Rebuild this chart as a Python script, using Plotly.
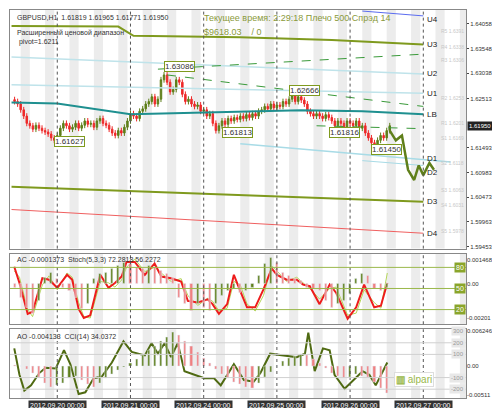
import plotly.graph_objects as go

closes = [1.6245,1.6240,1.6228,1.6215,1.6200,
 1.6195,1.6188,1.6196,1.6190,1.6185,1.6182,
 1.6178,1.6170,1.6165,1.6175,1.6190,1.6200,
 1.6195,1.6188,1.6192,1.6200,1.6190,1.6196,1.6205,1.6198,1.6200,1.6192,
 1.6205,1.6210,1.6200,1.6196,1.6188,1.6180,1.6175,1.6185,1.6180,1.6192,1.6205,1.6220,
 1.6215,1.6210,1.6225,1.6230,1.6240,1.6245,1.6255,1.6240,1.6250,1.6290,1.6300,1.6285,
 1.6265,1.6270,1.6290,1.6285,1.6260,1.6245,1.6250,1.6240,1.6235,1.6238,1.6225,1.6228,
 1.6215,1.6220,1.6200,1.6185,1.6195,1.6205,1.6198,1.6210,1.6205,1.6212,1.6208,1.6215,
 1.6210,1.6218,1.6212,1.6220,1.6215,1.6225,1.6228,1.6235,1.6230,1.6240,1.6232,1.6238,
 1.6235,1.6245,1.6240,1.6250,1.6258,1.6245,1.6255,1.6248,1.6240,1.6225,1.6220,1.6215,
 1.6220,1.6215,1.6210,1.6218,1.6212,1.6205,1.6195,1.6205,1.6200,1.6192,1.6205,1.6200,
 1.6195,1.6205,1.6190,1.6195,1.6180,1.6170,1.6160,1.6150,1.6165,1.6175,1.6170,1.6185,1.6195]
first_bar = -14
wick = 0.0006

fc_x = [109,111,113,115,117,118.5,120,122,123.5]
fc_y = [1.6185,1.6165,1.6175,1.6104,1.6083,1.6113,1.6093,1.6118,1.6104]

levels = {
 "U4": ([100,120],[1.6432,1.6422],"#5b6cf0",1),
 "U3": ([-15,20,25,60,90,120],[1.6401,1.6400,1.6381,1.6378,1.6372,1.6363],"#7f9a1e",2),
 "U2": ([-15,120],[1.6337,1.6302],"#bfe3ea",1.5),
 "U1": ([-15,120],[1.6280,1.6262],"#bfe3ea",1.5),
 "LB": ([-15,0,24,50,80,100,120],[1.6243,1.6241,1.6219,1.6223,1.6227,1.6225,1.6219],"#1f9090",2),
 "D1": ([60,129],[1.6158,1.6120],"#a8dbe6",1.5),
 "D2": ([100,120],[1.6123,1.6113],"#a8dbe6",1),
 "D3": ([-15,120],[1.6069,1.6038],"#7f9a1e",2),
 "D4": ([-15,120],[1.6022,1.5973],"#f06060",1),
}
level_label_y = {"U4":1.6415,"U3":1.6363,"U2":1.6302,"U1":1.6262,"LB":1.6219,"D1":1.6128,"D2":1.6098,"D3":1.6038,"D4":1.5973}
dashed = [([33,120],[1.6312,1.6343]),([36,120],[1.6300,1.6235]),([85,120],[1.6195,1.6189])]
price_labels = [(35,1.6318,"1.63086"),(-1,1.6163,"1.61627"),(54,1.6181,"1.61813"),(76,1.6267,"1.62666"),(89,1.6182,"1.61816"),(103,1.6146,"1.61450"),(-16,1.6196,"09")]
pivots = [("R5 1.6391",1.6391),("R4 1.6338",1.6358),("R3 1.6306",1.6330),("R2 1.6253",1.6253),("R1 1.6201",1.6201),
          ("S1 1.6169",1.6169),("S2 1.6118",1.6118),("S3 1.6063",1.6063),("S4 1.6031",1.6031),("S5 1.5978",1.5978)]
price_ticks = [1.64058,1.63548,1.63038,1.62513,1.61493,1.60983,1.60473,1.59963,1.59453]
last_price = 1.61950

stoch_x = [-14.1,-12.4,-9.7,-8.1,-4.9,-2.7,0,3.2,4.9,7,8.7,10.8,14.1,16.8,18.9,21.1,22.7,25.4,28.7,31.9,34.1,37.3,40.6,42.8,46.1,49.3,50.9,53,55.7,57.9,60,62.2,64.9,67.6,70.3,72,75.2,78.5,80.6,82.8,86,89.3,91.4,95.2,98,100.6,103.9,106.1,108.2]
stoch_main = [80.9,57.8,14,17,64.6,62.5,51,69.4,62.5,20.9,8,11.8,69.4,50.9,57.8,67,87.8,87.8,69.4,85.6,67,64.6,60,32.3,30,34.6,27.7,13.9,27.7,69.4,46.3,23.2,23.2,48.6,78.5,69.4,62.5,62.5,55.5,53.2,27.7,55.5,44,7,23.2,55.5,23.2,25.5,57.8]
stoch_sig = [75,66,20,10,55,68,48,72,66,30,10,8,60,58,52,62,80,92,74,80,72,60,64,40,26,36,32,18,22,60,55,28,18,40,82,75,60,66,58,50,35,50,52,12,15,48,30,22,72]
ac = [-2,-8,-14,-18,-10,4,7,3,-2,-4,-8,-15,-12,3,6,7,9,11,13,12,10,9,11,10,8,6,4,-8,-12,-16,-12,-14,-16,-12,-7,-4,-3,-5,-4,-2,5,12,16,13,7,5,3,2,-2,-3,-4,-10,-14,-12,-10,-6,3,6,5,-3,-4,-2]
ao = [2,0,-5,-12,-20,-30,-38,-35,-30,-22,-18,-25,-32,-38,-30,-22,-15,-8,-2,5,12,20,28,36,44,52,60,55,45,35,25,15,5,-5,-15,-22,-28,-32,-38,-40,-30,-20,-10,0,8,14,18,22,20,12,5,-3,-12,-18,-22,-20,-15,-18,-20,-28,-40,-48]
hist_x = list(range(-14,110,2))
cci_x = [-14.1,-12.4,-10.8,-8.6,-5.9,-3.8,-0.5,2.2,4.3,7,9.2,11.9,14.6,17.9,21.7,24.4,28.7,30.9,33,35.2,37.3,39.5,41.7,44.9,48.2,51.4,53.6,57.9,61.2,64.4,66.6,69.8,75.2,78.5,81.2,82.3,84.4,87.1,89.3,90.9,94.2,97.9,100.1,102.3,104.4,108.2]
cci = [152,-76,-212,-167,-61,-15,-21,136,15,-242,-227,-106,-91,30,212,121,91,197,106,197,76,197,-45,-76,-106,-106,-167,15,-121,-136,-61,106,91,76,106,288,-45,152,136,-76,-197,-106,-45,-76,-167,30]
day_x = [0,24,48,72,96,120]
day_labels = ["2012.09.20 00:00","2012.09.21 00:00","2012.09.24 00:00","2012.09.25 00:00","2012.09.26 00:00","2012.09.27 00:00"]

FONT = "Liberation Sans"
GREEN = "#5f7f1a"; RED = "#ee2a2a"
fig = go.Figure()
n = len(closes)
xs = list(range(first_bar, first_bar+n))
opens = [closes[0]+0.0004] + closes[:-1]
highs = [max(o,c)+wick for o,c in zip(opens,closes)]
lows = [min(o,c)-wick for o,c in zip(opens,closes)]
fig.add_trace(go.Candlestick(x=xs, open=opens, high=highs, low=lows, close=closes,
    increasing=dict(line=dict(color=GREEN,width=1),fillcolor=GREEN),
    decreasing=dict(line=dict(color=RED,width=1),fillcolor=RED), whiskerwidth=0, xaxis="x", yaxis="y"))
for k,(lx,ly,c,w) in levels.items():
    fig.add_trace(go.Scatter(x=lx,y=ly,mode="lines",line=dict(color=c,width=w),xaxis="x",yaxis="y"))
for lx,ly in dashed:
    fig.add_trace(go.Scatter(x=lx,y=ly,mode="lines",line=dict(color="#3a9a3a",width=1,dash="dash"),xaxis="x",yaxis="y"))
fig.add_trace(go.Scatter(x=fc_x,y=fc_y,mode="lines",line=dict(color=GREEN,width=2.5),xaxis="x",yaxis="y"))

fig.add_trace(go.Bar(x=hist_x,y=[v*1e-4 for v in ac],width=0.7,
    marker_color=[GREEN if i>0 and ac[i]>ac[i-1] else "#f08080" for i in range(len(ac))],xaxis="x2",yaxis="y5"))
fig.add_trace(go.Scatter(x=stoch_x,y=stoch_sig,mode="lines",line=dict(color="#b5d65a",width=1),xaxis="x2",yaxis="y2"))
fig.add_trace(go.Scatter(x=stoch_x,y=stoch_main,mode="lines",line=dict(color="#ee1c1c",width=2),xaxis="x2",yaxis="y2"))
fig.add_trace(go.Bar(x=hist_x,y=[v*1e-4 for v in ao],width=0.7,
    marker_color=[GREEN if i>0 and ao[i]>ao[i-1] else "#f08080" for i in range(len(ao))],xaxis="x3",yaxis="y6"))
fig.add_trace(go.Scatter(x=cci_x,y=cci,mode="lines",line=dict(color="#4f6a12",width=2),xaxis="x3",yaxis="y3"))

XR = [-15.5,134]
ax_common = dict(range=XR, showgrid=False, zeroline=False, showticklabels=False, showline=True, linecolor="#888", mirror=True)
fs = dict(size=6, color="#333", family=FONT)
fig.update_layout(
    width=500,height=408,margin=dict(l=2,r=42,t=2,b=18,autoexpand=False),showlegend=False,
    paper_bgcolor="white",plot_bgcolor="white",bargap=0,
    xaxis=dict(**ax_common,domain=[0,1],anchor="y",rangeslider=dict(visible=False)),
    xaxis2=dict(**ax_common,domain=[0,1],anchor="y2"),
    xaxis3=dict(**ax_common,domain=[0,1],anchor="y3"),
    yaxis=dict(domain=[0.385,1],range=[1.59412,1.64342],side="right",tickvals=price_ticks,ticktext=[f"{v:.5f}" for v in price_ticks],
               tickfont=fs,ticks="outside",ticklen=2,showgrid=False,zeroline=False,showline=True,linecolor="#888",mirror=True),
    yaxis2=dict(domain=[0.19,0.372],range=[-0.9,99.5],showticklabels=False,showgrid=False,zeroline=False,showline=True,linecolor="#888",mirror=True),
    yaxis5=dict(overlaying="y2",range=[-0.00241,0.00182],side="right",tickvals=[0.001468,0,-0.00201],ticktext=["0.001468","0.00","-0.00201"],tickfont=fs,showgrid=False,zeroline=False),
    yaxis3=dict(domain=[0.0,0.177],range=[-276,316],showticklabels=False,showgrid=False,zeroline=False,showline=True,linecolor="#888",mirror=True),
    yaxis6=dict(overlaying="y3",range=[-0.00568,0.0066],side="right",tickvals=[0.006246,0,-0.00511],ticktext=["0.006246","0.00","-0.00511"],tickfont=fs,showgrid=False,zeroline=False),
)
shapes=[]
for b in range(-12,137,8):
    for yr in ["y","y2","y3"]:
        shapes.append(dict(type="rect",xref="x",yref=f"{yr} domain",x0=b,x1=min(b+3,134),y0=0,y1=1,fillcolor="#ececec",line_width=0,layer="below"))
for d in day_x:
    for yr in ["y","y2","y3"]:
        shapes.append(dict(type="line",xref="x",yref=f"{yr} domain",x0=d,x1=d,y0=0,y1=1,line=dict(color="#555",width=1,dash="dot")))
for v in [80,50,20]:
    shapes.append(dict(type="line",xref="x2 domain",yref="y2",x0=0,x1=1,y0=v,y1=v,line=dict(color="#9ab84a",width=1)))
for v in [200,100,-100,-200]:
    shapes.append(dict(type="line",xref="x3 domain",yref="y3",x0=0,x1=1,y0=v,y1=v,line=dict(color="#d0d0d0",width=1)))
fig.update_layout(shapes=shapes)

ann=[]
def A(**k):
    d=dict(showarrow=False,font=dict(size=7,color="#333",family=FONT)); d.update(k); ann.append(d)
A(x=0.01,y=0.995,xref="paper",yref="paper",text="GBPUSD,H1  1.61819 1.61965 1.61771 1.61950",xanchor="left",yanchor="top")
A(x=0.01,y=0.955,xref="paper",yref="paper",text="Расширенный ценовой диапазон<br> pivot=1.6211",xanchor="left",yanchor="top",align="left")
A(x=0.42,y=0.998,xref="paper",yref="paper",text="Текущее время: 2:29:18 Плечо 500 Спрэд 14",xanchor="left",yanchor="top",font=dict(size=9,color="#8a9a3a",family=FONT))
A(x=0.42,y=0.962,xref="paper",yref="paper",text="$9618.03    / 0",xanchor="left",yanchor="top",font=dict(size=9,color="#8a9a3a",family=FONT))
for k,yv in level_label_y.items():
    A(x=120.5,y=yv,xref="x",yref="y",text=k,xanchor="left",font=dict(size=8,color="#222",family=FONT))
for t,yv in pivots:
    A(x=1.0,y=yv,xref="x domain",yref="y",text=t,xanchor="right",font=dict(size=5,color="#c8c8c8",family=FONT))
for px,py,t in price_labels:
    A(x=px,y=py,xref="x",yref="y",text=t,xanchor="left",bgcolor="white",bordercolor="#7f9a1e",borderwidth=1,borderpad=0,font=dict(size=8,color="#333",family=FONT))
A(x=1.002,y=last_price,xref="paper",yref="y",text="1.61950",xanchor="left",bgcolor="#222",font=dict(size=6,color="white",family=FONT))
A(x=0.01,y=0.99,xref="x2 domain",yref="y2 domain",text="AC -0.0001373  Stoch(5,3,3) 72.2818 56.2272",xanchor="left",yanchor="top")
A(x=0.01,y=0.97,xref="x3 domain",yref="y3 domain",text="AO -0.004133  CCI(14) 34.0372",xanchor="left",yanchor="top")
for v in [80,50,20]:
    A(x=1.0,y=v,xref="x2 domain",yref="y2",text=str(v),xanchor="right",bgcolor="#8aa52a",font=dict(size=7,color="white",family=FONT))
for v in [300,200,100,-100,-200]:
    A(x=1.0,y=v,xref="x3 domain",yref="y3",text=str(v),xanchor="right",bgcolor="#e8e8e8",font=dict(size=6,color="#999",family=FONT))
A(x=0.93,y=-120,xref="x3 domain",yref="y3",text="<b>▥</b> alpari",xanchor="right",bgcolor="white",bordercolor="#ddd",borderwidth=1,font=dict(size=10,color="#9ab84a",family=FONT))
for d,t in zip(day_x,day_labels):
    A(x=d,y=0,xref="x3",yref="paper",text=t,yanchor="top",yshift=-2,bgcolor="#333",font=dict(size=7,color="white",family=FONT))
fig.update_layout(annotations=ann)
fig.write_html("out.html")
